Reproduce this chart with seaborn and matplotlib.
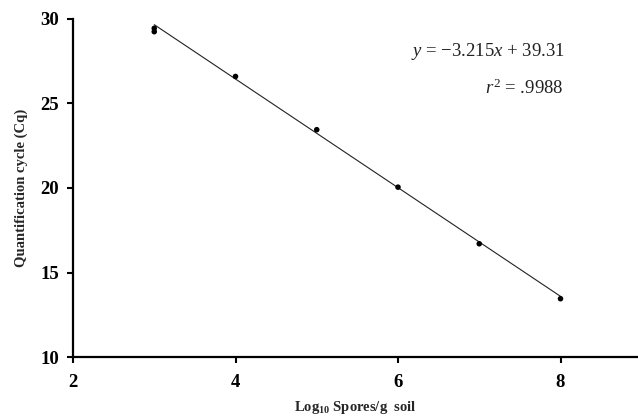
import numpy as np
import pandas as pd
import matplotlib
matplotlib.use("Agg")
import matplotlib.pyplot as plt
import seaborn as sns

# Data
log_spores = [3, 3, 4, 5, 6, 7, 8]
cq_values = [29.45, 29.25, 26.6, 23.45, 20.05, 16.7, 13.45]
slope = -3.215
intercept = 39.31
x_ticks = [2, 4, 6, 8]
y_ticks = [10, 15, 20, 25, 30]

sns.set_theme(style="ticks")
plt.rcParams['font.family'] = ['Liberation Serif', 'DejaVu Serif']
plt.rcParams['mathtext.fontset'] = 'custom'
plt.rcParams['mathtext.rm'] = 'Liberation Serif'
plt.rcParams['mathtext.it'] = 'Liberation Serif:italic'
plt.rcParams['mathtext.bf'] = 'Liberation Serif:bold'

fig = plt.figure(figsize=(6.38, 4.18), dpi=100)
ax = fig.add_axes([73/638, 61/418, (637-73)/638, (357-19)/418])

df = pd.DataFrame({"x": log_spores, "y": cq_values})
fit_x = np.array([min(log_spores), max(log_spores)], dtype=float)
fit_df = pd.DataFrame({"x": fit_x, "y": slope * fit_x + intercept})

sns.lineplot(data=fit_df, x="x", y="y", ax=ax, color="#222222", linewidth=0.8)
sns.scatterplot(data=df, x="x", y="y", ax=ax, color="black", s=16, edgecolor="none", zorder=3)

ax.set_xlim(2, 2 + (637-73)/81.25)
ax.set_ylim(10, 30)
ax.set_xticks(x_ticks)
ax.set_yticks(y_ticks)
for lab in ax.get_xticklabels() + ax.get_yticklabels():
    lab.set_fontweight("bold")
    lab.set_fontsize(13.5)
ax.tick_params(direction="out", length=4, width=1.5, colors="black")
ax.tick_params(axis="y", pad=6)
ax.tick_params(axis="x", pad=8)
sns.despine(ax=ax)
for s in ["left", "bottom"]:
    ax.spines[s].set_linewidth(1.6)
    ax.spines[s].set_color("black")

ax.set_xlabel(r"Log$_{\mathbf{10}}$ Spores/g  soil", fontsize=10.5, fontweight="bold", labelpad=6)
ax.set_ylabel("Quantification cycle (Cq)", fontsize=10.5, fontweight="bold", labelpad=9)

ax.text(8.06, 28.05, r"$\it{y}$ = $-$3.215$\it{x}$ + 39.31", ha="right", va="center", fontsize=13.5, color="#222222")
ax.text(8.04, 25.9, r"$\it{r}^2$ = .9988", ha="right", va="center", fontsize=13.5, color="#222222")

fig.savefig("out.png", dpi=100)
